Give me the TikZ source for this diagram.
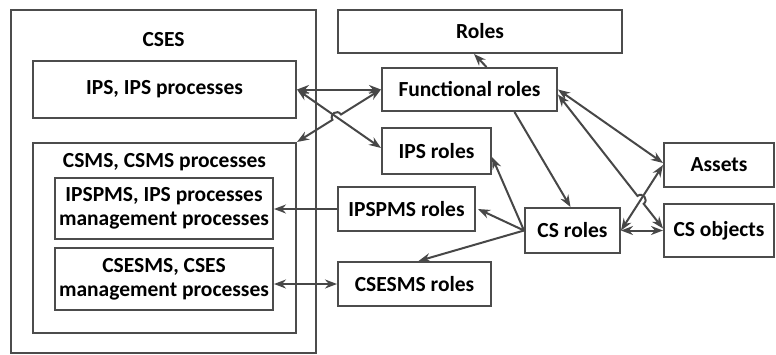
\documentclass[tikz,border=0pt]{standalone}
\usepackage{fontspec}
\setmainfont{Carlito}
\usetikzlibrary{arrows.meta,calc}

\begin{document}
\begin{tikzpicture}[x=1pt,y=-1pt,
        box/.style={draw=black!70,line width=2pt,inner sep=0pt,align=center,
            font=\fontsize{21.5}{24}\selectfont\bfseries},
        title/.style={inner sep=0pt,font=\fontsize{21.5}{24}\selectfont\bfseries},
        link/.style={draw=black!72,line width=2pt,-{Stealth[length=12pt,width=9pt]}},
        both/.style={link,{Stealth[length=12pt,width=9pt]}-{Stealth[length=12pt,width=9pt]}},
        hop/.style={bend left=90,looseness=1.7}]
                \useasboundingbox (0,0) rectangle (776,354);
                % left side
                \node[box,minimum width=305,minimum height=343] (cses) at (163.5,181.5) {};
                \node[title] (csestitle) at (163.5,40) {CSES};
                \node[box,minimum width=263,minimum height=57] (ips) at (164.5,89.5) {IPS, IPS processes};
                \node[box,minimum width=263,minimum height=190] (csms) at (164.5,238) {};
                \node[title] (csmstitle) at (164.5,162) {CSMS, CSMS processes};
                \node[box,minimum width=218,minimum height=61] (ipspms) at (164,208.5) {IPSPMS, IPS processes\\management processes};
                \node[box,minimum width=218,minimum height=62] (csesms) at (164,279) {CSESMS, CSES\\management processes};
                % roles
                \node[box,minimum width=284,minimum height=43] (roles) at (480,31.5) {Roles};
                \node[box,minimum width=175,minimum height=43] (func) at (469.5,89.5) {Functional roles};
                \node[box,minimum width=109,minimum height=46] (ipsr) at (436.5,151) {IPS roles};
                \node[box,minimum width=137,minimum height=44] (ipspmsr) at (406.5,209) {IPSPMS roles};
                \node[box,minimum width=153,minimum height=44] (csesmsr) at (414.5,284) {CSESMS roles};
                \node[box,minimum width=95,minimum height=45] (csr) at (572.5,230.5) {CS roles};
                \node[box,minimum width=110,minimum height=44] (assets) at (719,165) {Assets};
                \node[box,minimum width=110,minimum height=53] (csobj) at (719,230.5) {CS objects};
                % end points of the crossing lines
                \coordinate (a1) at (ips.east);
                \coordinate (a2) at ([yshift=3pt]ipsr.west);
                \coordinate (b1) at (csms.north east);
                \coordinate (b2) at (func.west);
                \coordinate (c1) at ([yshift=-5pt]func.east);
                \coordinate (c2) at ([yshift=2pt]csobj.west);
                \coordinate (d1) at (csr.east);
                \coordinate (d2) at (assets.west);
                \coordinate (x1) at (intersection of a1--a2 and b1--b2);
                \coordinate (x2) at (intersection of c1--c2 and d1--d2);
                % connectors
                \draw[link] ([xshift=17pt]func.north) -- ([xshift=-6pt]roles.south);
                \draw[both] (ips.east) -- (func.west);
                \draw[both] (a1) -- (a2);
                \draw[both] (b1) -- ($(x1)!5pt!(b1)$) to[hop] ($(x1)!5pt!(b2)$) -- (b2);
                \draw[link] ([xshift=45pt]func.south) -- ([xshift=-2pt]csr.north);
                \draw[both] (func.east) -- ([yshift=2pt]assets.west);
                \draw[both] (c1) -- ($(x2)!5pt!(c1)$) to[hop] ($(x2)!5pt!(c2)$) -- (c2);
                \draw[both] (d1) -- (d2);
                \draw[both] (csr.east) -- (csobj.west);
                \draw[link] (csr.west) -- ([yshift=-6pt]ipsr.east);
                \draw[link] (csr.west) -- ([xshift=2pt]ipspmsr.east);
                \draw[link] (csr.west) -- ([xshift=4pt]csesmsr.north);
                \draw[link] (ipspmsr.west) -- (ipspms.east |- ipspmsr.west);
                \draw[both] (csesmsr.west) -- (csesms.east |- csesmsr.west);
            \end{tikzpicture}
\end{document}
